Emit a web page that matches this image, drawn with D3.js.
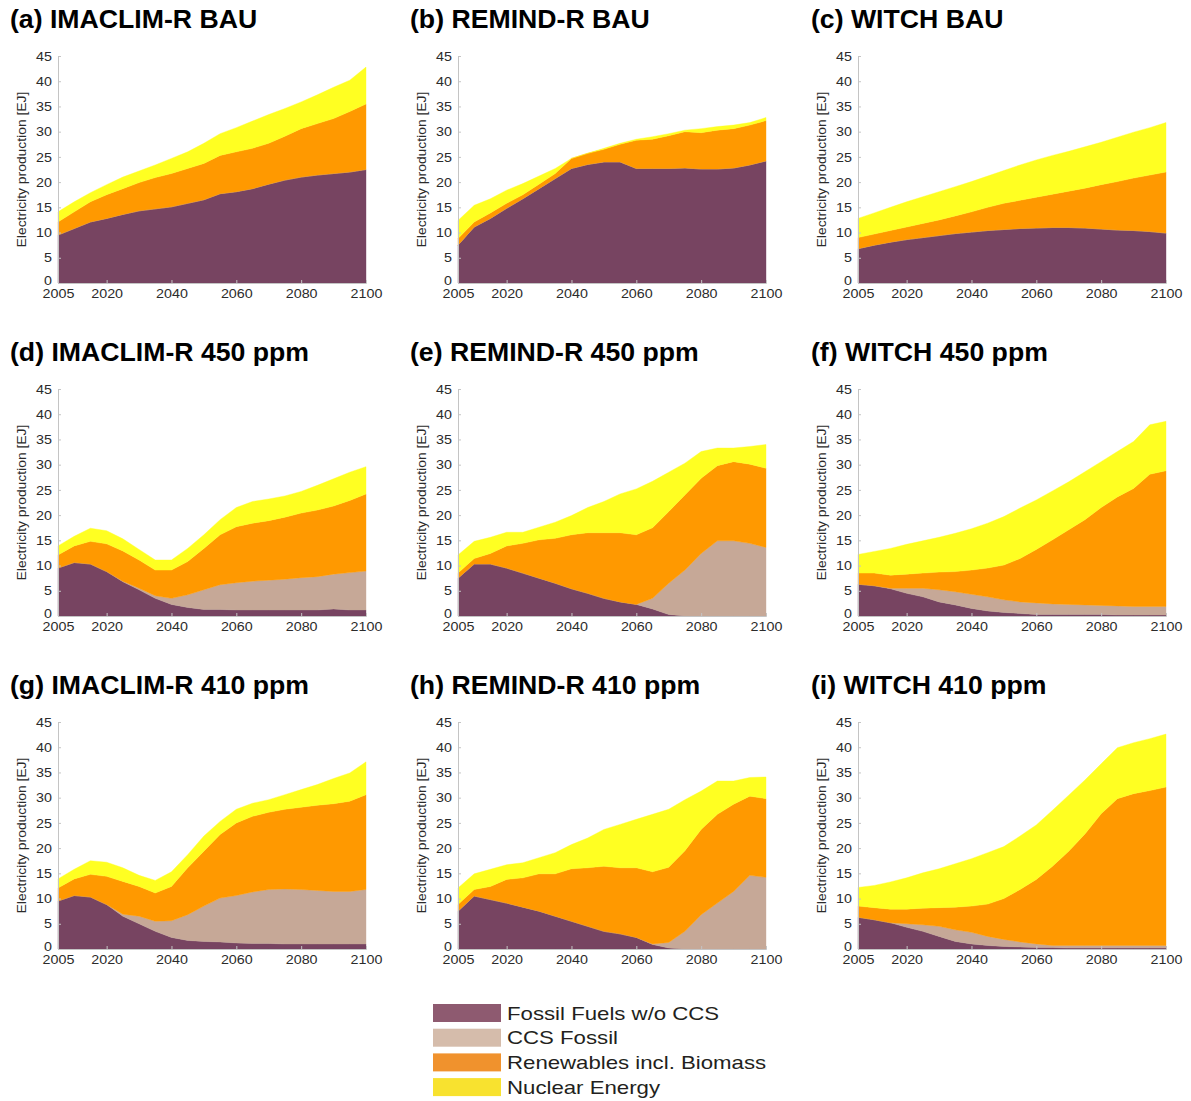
<!DOCTYPE html>
<html>
<head>
<meta charset="utf-8">
<script src="https://cdn.jsdelivr.net/npm/d3@7"></script>
<style>
  body { margin: 0; background: #fff; }
  svg { display: block; font-family: Arial, "Liberation Sans", sans-serif; }
</style>
</head>
<body>
<svg id="chart"></svg>
<script>
// SIZE
var width = 1191;
var height = 1101;

// DATA (EJ per source)
var years = [2005, 2010, 2015, 2020, 2025, 2030, 2035, 2040, 2045, 2050,
             2055, 2060, 2065, 2070, 2075, 2080, 2085, 2090, 2095, 2100];
var xTickValues = [2005, 2020, 2040, 2060, 2080, 2100];
var yTickValues = [0, 5, 10, 15, 20, 25, 30, 35, 40, 45];
var sourceNames = ["Fossil Fuels w/o CCS", "CCS Fossil", "Renewables incl. Biomass", "Nuclear Energy"];

// (a) IMACLIM-R BAU
var imaclimBauFossil  = [9.5, 10.8, 12.1, 12.8, 13.6, 14.3, 14.7, 15.1, 15.8, 16.5, 17.7, 18.1, 18.7, 19.6, 20.4, 21.0, 21.4, 21.7, 22.0, 22.5];
var imaclimBauCcs     = [0, 0, 0, 0, 0, 0, 0, 0, 0, 0, 0, 0, 0, 0, 0, 0, 0, 0, 0, 0];
var imaclimBauRenew   = [2.6, 3.3, 4.0, 4.7, 5.1, 5.6, 6.2, 6.6, 6.9, 7.2, 7.6, 7.9, 8.0, 8.1, 8.7, 9.6, 10.2, 10.9, 12.0, 13.0];
var imaclimBauNuclear = [2.0, 2.0, 1.8, 2.0, 2.3, 2.3, 2.5, 3.0, 3.3, 4.0, 4.3, 4.8, 5.4, 5.7, 5.5, 5.3, 5.7, 6.2, 6.2, 7.3];

// (b) REMIND-R BAU
var remindBauFossil  = [7.5, 11.1, 12.8, 14.8, 16.7, 18.7, 20.7, 22.7, 23.5, 24.0, 24.0, 22.7, 22.7, 22.7, 22.8, 22.6, 22.6, 22.8, 23.4, 24.2];
var remindBauCcs     = [0, 0, 0, 0, 0, 0, 0, 0, 0, 0, 0, 0, 0, 0, 0, 0, 0, 0, 0, 0];
var remindBauRenew   = [1.3, 1.0, 1.1, 1.0, 0.8, 0.9, 1.0, 2.0, 2.2, 2.5, 3.5, 5.6, 5.8, 6.5, 7.2, 7.2, 7.7, 7.8, 7.9, 8.0];
var remindBauNuclear = [3.6, 3.3, 2.8, 2.6, 2.2, 1.6, 1.0, 0.0, 0.0, 0.2, 0.2, 0.2, 0.5, 0.4, 0.3, 0.8, 0.7, 0.7, 0.5, 0.6];

// (c) WITCH BAU
var witchBauFossil  = [6.8, 7.5, 8.1, 8.6, 9.0, 9.4, 9.8, 10.1, 10.4, 10.6, 10.8, 10.9, 11.0, 11.0, 10.9, 10.7, 10.5, 10.4, 10.2, 9.9];
var witchBauCcs     = [0, 0, 0, 0, 0, 0, 0, 0, 0, 0, 0, 0, 0, 0, 0, 0, 0, 0, 0, 0];
var witchBauRenew   = [2.2, 2.2, 2.3, 2.5, 2.8, 3.1, 3.5, 4.0, 4.6, 5.2, 5.6, 6.1, 6.6, 7.2, 7.9, 8.8, 9.6, 10.4, 11.2, 12.1];
var witchBauNuclear = [3.8, 4.2, 4.6, 5.0, 5.3, 5.6, 5.8, 6.0, 6.2, 6.5, 7.0, 7.4, 7.7, 7.9, 8.2, 8.4, 8.8, 9.1, 9.4, 9.8];

// (d) IMACLIM-R 450 ppm
var imaclim450Fossil  = [9.5, 10.6, 10.3, 8.8, 6.8, 5.2, 3.5, 2.3, 1.7, 1.3, 1.3, 1.2, 1.2, 1.2, 1.2, 1.2, 1.2, 1.4, 1.2, 1.2];
var imaclim450Ccs     = [0, 0, 0, 0, 0.1, 0.3, 0.5, 1.2, 2.5, 3.9, 4.9, 5.4, 5.7, 5.9, 6.1, 6.4, 6.6, 6.9, 7.4, 7.7];
var imaclim450Renew   = [2.6, 3.3, 4.5, 5.5, 6.0, 5.6, 5.1, 5.6, 6.6, 8.2, 9.9, 11.1, 11.5, 11.8, 12.3, 12.8, 13.2, 13.5, 14.3, 15.3];
var imaclim450Nuclear = [1.8, 1.9, 2.6, 2.6, 2.4, 2.1, 2.0, 2.0, 2.6, 2.7, 3.0, 3.8, 4.3, 4.3, 4.2, 4.3, 4.9, 5.4, 5.6, 5.4];

// (e) REMIND-R 450 ppm
var remind450Fossil  = [7.5, 10.3, 10.3, 9.5, 8.5, 7.5, 6.5, 5.4, 4.5, 3.5, 2.8, 2.3, 1.4, 0.3, 0, 0, 0, 0, 0, 0];
var remind450Ccs     = [0, 0, 0, 0, 0, 0, 0, 0, 0, 0, 0, 0, 2.1, 6.2, 9.1, 12.4, 14.9, 14.9, 14.4, 13.6];
var remind450Renew   = [1.0, 1.1, 2.1, 4.4, 5.9, 7.6, 8.9, 10.7, 12.0, 13.0, 13.7, 13.8, 14.0, 14.2, 14.9, 14.9, 14.9, 15.7, 15.7, 15.7];
var remind450Nuclear = [3.6, 3.4, 3.2, 2.7, 2.2, 2.5, 3.2, 3.8, 5.0, 6.2, 7.7, 9.1, 9.2, 7.8, 6.3, 5.3, 3.5, 2.7, 3.5, 4.7];

// (f) WITCH 450 ppm
var witch450Fossil  = [6.3, 6.0, 5.4, 4.5, 3.8, 2.8, 2.2, 1.5, 1.0, 0.7, 0.5, 0.3, 0.3, 0.3, 0.3, 0.3, 0.2, 0.2, 0.2, 0.2];
var witch450Ccs     = [0, 0, 0.1, 1.0, 1.7, 2.4, 2.6, 2.8, 2.8, 2.5, 2.3, 2.3, 2.1, 2.0, 1.9, 1.8, 1.8, 1.7, 1.7, 1.7];
var witch450Renew   = [2.2, 2.5, 2.6, 2.8, 3.0, 3.5, 4.0, 4.8, 5.7, 6.9, 8.6, 10.6, 12.7, 14.8, 16.9, 19.4, 21.6, 23.4, 26.2, 26.9];
var witch450Nuclear = [3.7, 4.3, 5.3, 5.9, 6.4, 6.9, 7.6, 8.2, 8.9, 9.6, 10.0, 9.8, 9.7, 9.5, 9.5, 9.1, 9.0, 9.3, 9.8, 9.8];

// (g) IMACLIM-R 410 ppm
var imaclim410Fossil  = [9.5, 10.6, 10.3, 8.8, 6.5, 5.0, 3.5, 2.3, 1.7, 1.5, 1.4, 1.2, 1.1, 1.1, 1.0, 1.0, 1.0, 1.0, 1.0, 1.0];
var imaclim410Ccs     = [0, 0, 0, 0, 0.4, 1.5, 2.0, 3.3, 5.1, 7.0, 8.7, 9.4, 10.2, 10.7, 10.9, 10.8, 10.6, 10.4, 10.4, 10.8];
var imaclim410Renew   = [2.6, 3.3, 4.5, 5.6, 6.5, 5.9, 5.6, 6.8, 9.3, 10.9, 12.6, 14.4, 15.0, 15.3, 15.8, 16.3, 16.9, 17.4, 17.9, 18.8];
var imaclim410Nuclear = [1.8, 1.9, 2.7, 2.8, 2.7, 2.2, 2.5, 2.9, 2.6, 3.0, 2.6, 2.7, 2.6, 2.5, 2.9, 3.5, 4.1, 5.0, 5.6, 6.5];

// (h) REMIND-R 410 ppm
var remind410Fossil  = [7.5, 10.5, 9.8, 9.1, 8.3, 7.5, 6.5, 5.5, 4.5, 3.5, 3.0, 2.3, 0.9, 0.2, 0, 0, 0, 0, 0, 0];
var remind410Ccs     = [0, 0, 0, 0, 0, 0, 0, 0, 0, 0, 0, 0, 0.1, 1.1, 3.5, 6.8, 9.1, 11.4, 14.6, 14.2];
var remind410Renew   = [1.3, 1.3, 2.6, 4.7, 5.8, 7.4, 8.4, 10.4, 11.6, 12.9, 13.1, 13.8, 14.3, 14.9, 16.0, 16.9, 17.6, 17.3, 15.7, 15.6];
var remind410Nuclear = [3.3, 3.1, 3.4, 2.9, 3.0, 3.2, 4.2, 4.8, 5.9, 7.3, 8.6, 9.6, 11.4, 11.5, 10.1, 7.6, 6.6, 4.6, 3.7, 4.3];

// (i) WITCH 410 ppm
var witch410Fossil  = [6.3, 5.8, 5.2, 4.3, 3.5, 2.5, 1.5, 1.0, 0.7, 0.5, 0.4, 0.3, 0.3, 0.2, 0.2, 0.2, 0.2, 0.2, 0.2, 0.2];
var witch410Ccs     = [0, 0, 0, 0.7, 1.3, 2.0, 2.3, 2.3, 1.8, 1.4, 1.0, 0.7, 0.4, 0.5, 0.5, 0.5, 0.5, 0.5, 0.5, 0.5];
var witch410Renew   = [2.2, 2.4, 2.7, 2.9, 3.3, 3.7, 4.5, 5.2, 6.4, 8.1, 10.4, 12.8, 15.7, 18.7, 22.1, 26.1, 29.1, 30.1, 30.7, 31.4];
var witch410Nuclear = [3.7, 4.4, 5.4, 6.2, 7.0, 7.7, 8.6, 9.4, 10.2, 10.3, 10.6, 10.8, 11.1, 11.1, 10.7, 9.9, 10.1, 10.1, 10.3, 10.5];

// Panel table built from the arrays above
var panels = [
  {title: "(a) IMACLIM-R BAU",     layers: [imaclimBauFossil, imaclimBauCcs, imaclimBauRenew, imaclimBauNuclear]},
  {title: "(b) REMIND-R BAU",      layers: [remindBauFossil, remindBauCcs, remindBauRenew, remindBauNuclear]},
  {title: "(c) WITCH BAU",         layers: [witchBauFossil, witchBauCcs, witchBauRenew, witchBauNuclear]},
  {title: "(d) IMACLIM-R 450 ppm", layers: [imaclim450Fossil, imaclim450Ccs, imaclim450Renew, imaclim450Nuclear]},
  {title: "(e) REMIND-R 450 ppm",  layers: [remind450Fossil, remind450Ccs, remind450Renew, remind450Nuclear]},
  {title: "(f) WITCH 450 ppm",     layers: [witch450Fossil, witch450Ccs, witch450Renew, witch450Nuclear]},
  {title: "(g) IMACLIM-R 410 ppm", layers: [imaclim410Fossil, imaclim410Ccs, imaclim410Renew, imaclim410Nuclear]},
  {title: "(h) REMIND-R 410 ppm",  layers: [remind410Fossil, remind410Ccs, remind410Renew, remind410Nuclear]},
  {title: "(i) WITCH 410 ppm",     layers: [witch410Fossil, witch410Ccs, witch410Renew, witch410Nuclear]}
];

// STYLES
var areaColors = ["#774461", "#c6a897", "#ff9900", "#ffff22"];
var legendColors = ["#8e5a70", "#d5bcab", "#f0922d", "#f8e22f"];
var colLeft = [58, 458, 858];
var titleLeft = [10, 410, 811];
var rowBottom = [283, 616, 949];
var plotW = 308;
var plotH = 227;

// widen a text horizontally (the source figure is slightly stretched)
function stretch(sel, factor) {
  sel.each(function() {
    var len = this.getComputedTextLength();
    d3.select(this)
      .attr("textLength", len * factor)
      .attr("lengthAdjust", "spacingAndGlyphs");
  });
}

var svg = d3.select("#chart")
  .attr("width", width)
  .attr("height", height);

var stack = d3.stack().keys(d3.range(4));

panels.forEach(function(p, i) {
  var col = i % 3;
  var row = Math.floor(i / 3);
  var left = colLeft[col];
  var bottom = rowBottom[row];

  var x = d3.scaleLinear().domain([2005, 2100]).range([left, left + plotW]);
  var y = d3.scaleLinear().domain([0, 45]).range([bottom, bottom - plotH]);

  var rows = years.map(function(yr, k) {
    var r = {year: yr};
    p.layers.forEach(function(arr, j) { r[j] = arr[k]; });
    return r;
  });
  var stacked = stack(rows);

  var area = d3.area()
    .x(function(d) { return x(d.data.year); })
    .y0(function(d) { return y(d[0]); })
    .y1(function(d) { return y(d[1]); });

  var g = svg.append("g").attr("class", "panel");

  g.selectAll("path.layer")
    .data(stacked)
    .join("path")
    .attr("class", "layer")
    .attr("d", area)
    .attr("fill", function(d) { return areaColors[d.key]; })
    .attr("stroke", function(d) { return areaColors[d.key]; })
    .attr("stroke-width", 0.4);

  // Axes
  var yAxis = d3.axisLeft(y).tickValues(yTickValues).tickSize(-3).tickPadding(6);
  var xAxis = d3.axisBottom(x).tickValues(xTickValues).tickFormat(d3.format("d")).tickSize(-3).tickPadding(6);

  var ya = g.append("g")
    .attr("transform", "translate(" + left + ",0)")
    .call(yAxis);
  var xa = g.append("g")
    .attr("transform", "translate(0," + bottom + ")")
    .call(xAxis);

  [ya, xa].forEach(function(a) {
    a.select(".domain").attr("stroke", "#c4c4c4");
    a.selectAll(".tick line").attr("stroke", "#c4c4c4");
    a.selectAll(".tick text")
      .attr("font-size", 13)
      .attr("font-family", "Arial, 'Liberation Sans', sans-serif")
      .attr("fill", "#2b2b2b");
    stretch(a.selectAll(".tick text"), 1.1);
  });
  // the "0" label sits just above the first year label, as in the source
  ya.selectAll(".tick text").filter(function(d) { return d === 0; }).attr("dy", "0.1em");

  // Y label
  var yl = g.append("text")
    .attr("transform", "translate(" + (left - 32) + "," + (bottom - plotH / 2) + ") rotate(-90)")
    .attr("text-anchor", "middle")
    .attr("font-size", 12.5)
    .attr("fill", "#2b2b2b")
    .text("Electricity production [EJ]");
  stretch(yl, 1.11);

  // Title
  var t = g.append("text")
    .attr("x", titleLeft[col])
    .attr("y", bottom - 255)
    .attr("font-size", 25.5)
    .attr("font-weight", "bold")
    .attr("fill", "#000")
    .text(p.title);
  stretch(t, 1.045);
});

// LEGEND
var legend = svg.append("g").attr("transform", "translate(433,1004)");
var items = legend.selectAll("g")
  .data(sourceNames)
  .join("g")
  .attr("transform", function(d, i) { return "translate(0," + (i * 24.7) + ")"; });

items.append("rect")
  .attr("width", 68)
  .attr("height", 18)
  .attr("fill", function(d, i) { return legendColors[i]; });

var legendText = items.append("text")
  .attr("x", 74)
  .attr("y", 15.5)
  .attr("font-size", 18.5)
  .attr("fill", "#231f20")
  .text(function(d) { return d; });
stretch(legendText, 1.2);
</script>
</body>
</html>
